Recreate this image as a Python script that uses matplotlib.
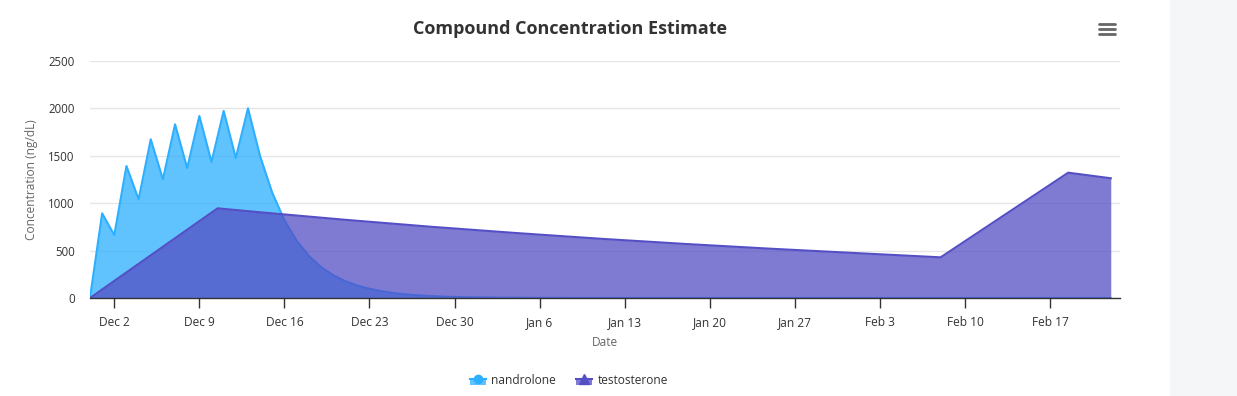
import matplotlib
matplotlib.use("Agg")
import matplotlib.pyplot as plt
import matplotlib.dates as mdates
from matplotlib.patches import Rectangle
from matplotlib.lines import Line2D
from matplotlib.ticker import FuncFormatter
import pandas as pd

plt.rcParams['font.family'] = ['Open Sans', 'DejaVu Sans']

# ---------------- data ----------------
title = "Compound Concentration Estimate"
y_label = "Concentration (ng/dL)"
x_label = "Date"
series_names = ["nandrolone", "testosterone"]

nandrolone_start = "2023-11-30"
nandrolone_values = [
    0, 893, 664, 1392, 1041, 1674, 1252, 1832, 1371, 1920,
    1435, 1973, 1477, 2001, 1495, 1110, 820, 605, 445, 328,
    242, 178, 131, 97, 71, 52, 38, 28, 21, 15,
    11, 8, 6, 5, 3, 3, 2, 1, 1, 1,
    0, 0, 0, 0, 0, 0, 0, 0, 0, 0,
    0, 0, 0, 0, 0, 0, 0, 0, 0, 0,
    0, 0, 0, 0, 0, 0, 0, 0, 0, 0,
    0, 0, 0, 0, 0, 0, 0, 0, 0, 0,
    0, 0, 0, 0, 0,
]

testosterone_dates = [
    "2023-11-30 00:00", "2023-12-10 12:00", "2023-12-14 00:00", "2023-12-21 00:00",
    "2023-12-28 00:00", "2024-01-04 00:00", "2024-01-11 00:00", "2024-01-18 00:00",
    "2024-01-25 00:00", "2024-02-01 00:00", "2024-02-08 00:00", "2024-02-18 12:00",
    "2024-02-22 00:00",
]
testosterone_values = [0, 946, 904, 825, 752, 686, 625, 570, 520, 474, 429, 1322, 1263]

y_ticks = [0, 500, 1000, 1500, 2000, 2500]

# ---------------- style ----------------
W, H = 1237, 396
col_n = "#2caffe"
col_t = "#544fc5"

nand_dates = pd.date_range(nandrolone_start, periods=len(nandrolone_values), freq="D")
test_dates = pd.to_datetime(testosterone_dates, format="%Y-%m-%d %H:%M")

fig = plt.figure(figsize=(W / 100, H / 100), dpi=100)
fig.patches.append(Rectangle((1170 / W, 0), 67 / W, 1, transform=fig.transFigure,
                             facecolor="#f5f6f8", edgecolor="none", zorder=0))

ax = fig.add_axes([90 / W, 98 / H, 1030 / W, 237 / H])
ax.set_facecolor("none")

ax.fill_between(nand_dates, nandrolone_values, 0, color=col_n, alpha=0.75, lw=0, zorder=2)
ax.plot(nand_dates, nandrolone_values, color=col_n, lw=1.5, zorder=3, solid_joinstyle="round")
ax.fill_between(test_dates, testosterone_values, 0, color=col_t, alpha=0.75, lw=0, zorder=4)
ax.plot(test_dates, testosterone_values, color=col_t, lw=1.5, zorder=5, solid_joinstyle="round")

x0 = pd.Timestamp("2023-11-30")
ax.set_xlim(mdates.date2num(x0), mdates.date2num(x0) + 84.76)
ax.set_ylim(0, 2500)

ax.set_yticks(y_ticks)
ax.set_yticklabels([str(v) for v in y_ticks])
ax.grid(axis="y", color="#e6e6e6", lw=1, zorder=0)
ax.set_axisbelow(True)

ax.xaxis.set_major_locator(mdates.WeekdayLocator(byweekday=mdates.SA))
ax.xaxis.set_major_formatter(FuncFormatter(lambda v, p: f"{mdates.num2date(v):%b} {mdates.num2date(v).day}"))

for s in ["top", "right", "left"]:
    ax.spines[s].set_visible(False)
ax.spines["bottom"].set_color("#333333")
ax.spines["bottom"].set_linewidth(1)
ax.spines["bottom"].set_zorder(6)

ax.tick_params(axis="x", length=7, width=1, color="#333333", labelcolor="#333333",
               labelsize=8.6, pad=6)
ax.tick_params(axis="y", length=0, labelcolor="#333333", labelsize=8.3, pad=11)

# title
fig.text(570 / W, 1 - 29 / H, title, ha="center", va="center", fontsize=13,
         fontweight="bold", color="#333333")
# axis titles
fig.text(605 / W, 1 - 343 / H, x_label, ha="center", va="center", fontsize=8.6, color="#666666")
fig.text(32 / W, 1 - 180 / H, y_label, ha="center", va="center", fontsize=8.6,
         color="#666666", rotation=90)

# hamburger menu
for yy in (24.3, 29.3, 34.3):
    fig.add_artist(Line2D([1099 / W, 1115 / W], [1 - yy / H, 1 - yy / H], color="#666666",
                          lw=2.0, solid_capstyle="round", transform=fig.transFigure))

# legend
def sym(x, kind, color):
    fig.patches.append(Rectangle((x / W, 1 - 385 / H), 16 / W, 6 / H, transform=fig.transFigure,
                                 facecolor=color, alpha=0.75, edgecolor="none"))
    fig.add_artist(Line2D([x / W, (x + 16) / W], [1 - 379 / H, 1 - 379 / H], color=color, lw=1.5,
                          transform=fig.transFigure))
    if kind == "circle":
        fig.add_artist(Line2D([(x + 8) / W], [1 - 379 / H], marker="o", markersize=6, color=color,
                              transform=fig.transFigure, lw=0))
    else:
        fig.add_artist(Line2D([(x + 8) / W], [1 - 378.5 / H], marker="^", markersize=6.5, color=color,
                              transform=fig.transFigure, lw=0))

sym(470, "circle", col_n)
fig.text(491.5 / W, 1 - 381 / H, series_names[0], ha="left", va="center", fontsize=8.6, color="#333333")
sym(576, "tri", col_t)
fig.text(597.5 / W, 1 - 381 / H, series_names[1], ha="left", va="center", fontsize=8.6, color="#333333")

fig.savefig("out.png", dpi=100)
